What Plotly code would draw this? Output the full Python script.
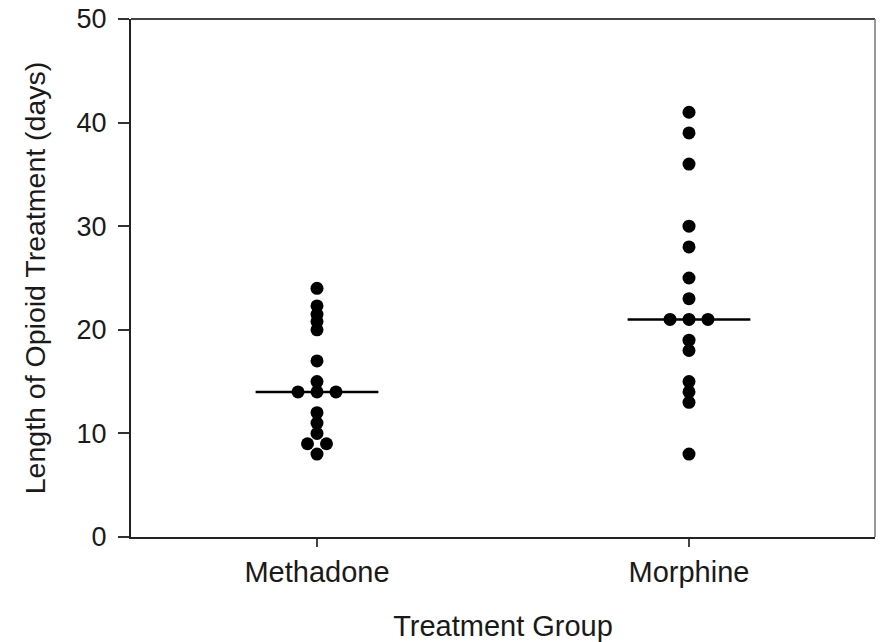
import plotly.graph_objects as go
from collections import Counter

groups = ["Methadone", "Morphine"]
methadone_days = [24, 22.3, 21.5, 20.8, 20, 17, 15, 14, 14, 14, 12, 11, 10, 9, 9, 8]
morphine_days = [41, 39, 36, 30, 28, 25, 23, 21, 21, 21, 19, 18, 15, 14, 13, 8]
medians = [14, 21]
y_ticks = [0, 10, 20, 30, 40, 50]

FONT = "Liberation Sans, Arial, sans-serif"
SPREAD = 0.051   # horizontal spacing for tied values
HALF = 0.165     # half-width of median bar

fig = go.Figure()

for gi, vals in enumerate([methadone_days, morphine_days]):
    center = gi + 1
    counts = Counter(vals)
    seen = Counter()
    xs = []
    for v in vals:
        n = counts[v]
        k = seen[v]
        seen[v] += 1
        xs.append(center + (k - (n - 1) / 2) * SPREAD)
    fig.add_trace(go.Scatter(
        x=xs, y=vals, mode="markers",
        marker=dict(color="black", size=13, line=dict(width=0)),
        showlegend=False, hoverinfo="y"))
    fig.add_trace(go.Scatter(
        x=[center - HALF, center + HALF], y=[medians[gi], medians[gi]],
        mode="lines", line=dict(color="black", width=2.5),
        showlegend=False, hoverinfo="skip"))

fig.update_layout(
    width=882, height=642,
    margin=dict(l=131, r=7, t=19, b=105),
    paper_bgcolor="white", plot_bgcolor="white",
    font=dict(family=FONT, size=28, color="#1a1a1a"),
    xaxis=dict(
        range=[0.5, 2.5], tickmode="array", tickvals=[1, 2], ticktext=groups,
        automargin=False,
        showgrid=False, zeroline=False, showline=True, linecolor="#222",
        linewidth=2, ticks="outside", ticklen=8, tickwidth=1.5, tickcolor="#444",
        tickfont=dict(size=29),
        title=dict(text="Treatment Group", font=dict(size=29), standoff=29),
    ),
    yaxis=dict(
        range=[0, 50], tickmode="array", tickvals=y_ticks,
        automargin=False, ticklabeloverflow="allow",
        showgrid=False, zeroline=False, showline=True, linecolor="#222",
        linewidth=2, ticks="outside", ticklen=11, tickwidth=1.5, tickcolor="#333",
        tickfont=dict(size=27), ticklabelstandoff=6,
        title=dict(text="Length of Opioid Treatment (days)", font=dict(size=28.5), standoff=23),
    ),
    shapes=[
        dict(type="line", xref="paper", yref="paper", x0=0, x1=1, y0=1, y1=1,
             line=dict(color="#444", width=2)),
        dict(type="line", xref="paper", yref="paper", x0=1, x1=1, y0=0, y1=1,
             line=dict(color="#777", width=1.5)),
    ],
)

fig.write_html(
    "out.html",
    config={"displayModeBar": False},
    post_script="document.body.style.margin='0';document.body.style.overflow='hidden';",
)
